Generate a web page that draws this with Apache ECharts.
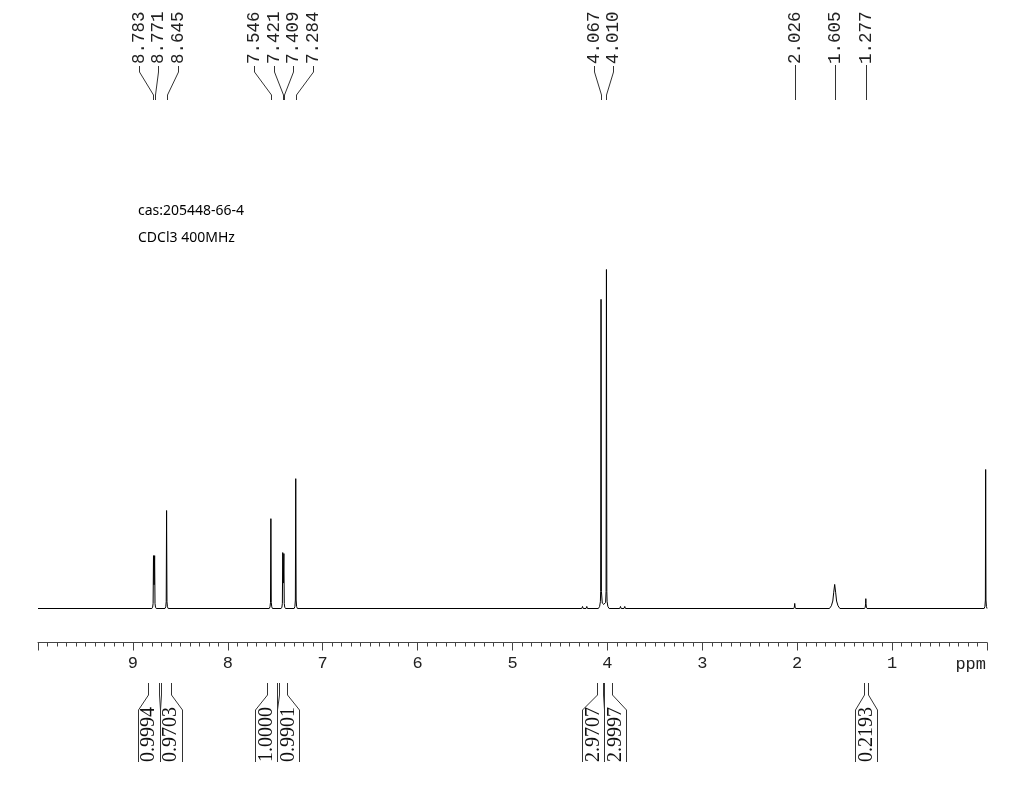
<!DOCTYPE html>
<html>
<head>
<meta charset="utf-8">
<script src="https://cdn.jsdelivr.net/npm/echarts@6/dist/echarts.min.js"></script>
<style>
html,body{margin:0;padding:0;background:#fff;}
#chart{width:1013px;height:793px;}
</style>
</head>
<body>
<div id="chart"></div>
<script>
// ---- data ----
const noteLines = ['cas:205448-66-4', 'CDCl3 400MHz'];
const axisUnit = 'ppm';
const tickLabels = [1, 2, 3, 4, 5, 6, 7, 8, 9];

// spectrum trace: [ppm, relative intensity]
const spectrumPoints = [
  [10.0, 0],
  [8.800, 0], [8.792, 0.4], [8.787, 1.5], [8.783, 15.6], [8.777, 7.0], [8.771, 15.6], [8.767, 1.5], [8.762, 0.4], [8.754, 0],
  [8.662, 0], [8.654, 0.5], [8.649, 2.0], [8.645, 28.9], [8.641, 2.0], [8.636, 0.5], [8.628, 0],
  [7.563, 0], [7.555, 0.5], [7.550, 1.8], [7.546, 26.5], [7.542, 1.8], [7.537, 0.5], [7.529, 0],
  [7.438, 0], [7.430, 0.4], [7.425, 1.5], [7.421, 16.5], [7.415, 7.5], [7.409, 16.2], [7.405, 1.5], [7.400, 0.4], [7.392, 0],
  [7.301, 0], [7.293, 0.6], [7.288, 2.5], [7.284, 38.3], [7.280, 2.5], [7.275, 0.6], [7.267, 0],
  [4.270, 0], [4.262, 0.6], [4.255, 0], [4.225, 0], [4.217, 0.6], [4.210, 0],
  [4.095, 0], [4.082, 0.6], [4.074, 2.0], [4.071, 5.0], [4.067, 91.2], [4.063, 5.0], [4.054, 1.6],
  [4.038, 1.2], [4.019, 1.8], [4.014, 5.0], [4.010, 100], [4.006, 5.0], [4.003, 2.0], [3.995, 0.6], [3.982, 0],
  [3.870, 0], [3.862, 0.6], [3.855, 0], [3.825, 0], [3.817, 0.6], [3.810, 0],
  [2.036, 0], [2.030, 0.4], [2.026, 1.5], [2.022, 0.4], [2.016, 0],
  [1.660, 0], [1.640, 0.8], [1.625, 2.2], [1.615, 4.8], [1.605, 7.1], [1.595, 4.8], [1.585, 2.2], [1.570, 0.8], [1.550, 0],
  [1.290, 0], [1.283, 0.4], [1.279, 1.4], [1.277, 2.9], [1.275, 1.4], [1.271, 0.4], [1.264, 0],
  [0.030, 0], [0.022, 0.6], [0.017, 2.5], [0.014, 41.0], [0.011, 2.5], [0.006, 0.6], [0.0, 0]
];

// peak picking labels (ppm)
const peakPpm = [8.783, 8.771, 8.645, 7.546, 7.421, 7.409, 7.284, 4.067, 4.010, 2.026, 1.605, 1.277];

// integrals: region start / end (ppm) and value
const integralFrom = [8.840, 8.707, 7.590, 7.460, 4.113, 4.032, 1.296];
const integralTo   = [8.722, 8.602, 7.485, 7.379, 4.050, 3.955, 1.257];
const integralValues = [0.9994, 0.9703, 1.0000, 0.9901, 2.9707, 2.9997, 0.2193];

// ---- layout helpers ----
function spread(xs, gap) {
  const order = xs.map((x, i) => i).sort((a, b) => xs[a] - xs[b]);
  let clusters = order.map(i => ({ idx: [i], center: xs[i] }));
  let changed = true;
  while (changed) {
    changed = false;
    for (let k = 0; k < clusters.length - 1; k++) {
      const a = clusters[k], b = clusters[k + 1];
      const aEnd = a.center + (a.idx.length - 1) * gap / 2;
      const bStart = b.center - (b.idx.length - 1) * gap / 2;
      if (bStart - aEnd < gap) {
        const idx = a.idx.concat(b.idx);
        const center = idx.reduce((s, i) => s + xs[i], 0) / idx.length;
        clusters.splice(k, 2, { idx, center });
        changed = true;
        break;
      }
    }
  }
  const pos = new Array(xs.length);
  clusters.forEach(c => {
    const n = c.idx.length;
    c.idx.forEach((i, j) => { pos[i] = c.center + (j - (n - 1) / 2) * gap; });
  });
  return pos;
}
const crisp = v => Math.round(v) + 0.5;

function renderSpectrum(params, api) {
  if (params.dataIndex !== 0) return null;
  const pts = spectrumPoints.map(p => api.coord(p));
  return {
    type: 'polyline',
    shape: { points: pts },
    style: { stroke: '#000', lineWidth: 1, fill: null }
  };
}

function renderPeakLabel(params, api) {
  const ctx = params.context;
  if (!ctx.pos) {
    ctx.xs = peakPpm.map(p => api.coord([p, 0])[0]);
    ctx.pos = spread(ctx.xs, 19.5);
  }
  const i = params.dataIndex;
  const px = crisp(ctx.xs[i]);
  const lx = crisp(ctx.pos[i]);
  const pts = Math.abs(lx - px) < 1 ? [[px, 65], [px, 100]] : [[lx, 66], [lx, 72], [px, 95], [px, 100]];
  return {
    type: 'group',
    children: [
      { type: 'polyline', shape: { points: pts }, style: { stroke: '#333', lineWidth: 1, fill: null } },
      { type: 'text', x: lx, y: 64, rotation: Math.PI / 2,
        style: { text: peakPpm[i].toFixed(3), font: '17.5px "Liberation Mono"', fill: '#222', align: 'left', verticalAlign: 'middle' } }
    ]
  };
}

function renderIntegral(params, api) {
  const ctx = params.context;
  if (!ctx.pos) {
    ctx.x1 = integralFrom.map(p => api.coord([p, 0])[0]);
    ctx.x2 = integralTo.map(p => api.coord([p, 0])[0]);
    ctx.pos = spread(ctx.x1.map((a, i) => (a + ctx.x2[i]) / 2), 22);
  }
  const i = params.dataIndex;
  const x1 = crisp(ctx.x1[i]), x2 = crisp(ctx.x2[i]);
  const c = ctx.pos[i];
  const bl = crisp(c - 11), br = crisp(c + 11);
  const st = { stroke: '#333', lineWidth: 1, fill: null };
  return {
    type: 'group',
    children: [
      { type: 'polyline', shape: { points: [[x1, 683], [x1, 695], [bl, 710], [bl, 762]] }, style: st },
      { type: 'polyline', shape: { points: [[x2, 683], [x2, 695], [br, 710], [br, 762]] }, style: st },
      { type: 'text', x: c + 0.5, y: 762, rotation: Math.PI / 2,
        style: { text: integralValues[i].toFixed(4), font: '20px "Liberation Serif"', fill: '#111', align: 'left', verticalAlign: 'middle' } }
    ]
  };
}

const chart = echarts.init(document.getElementById('chart'), null, { renderer: 'canvas' });
chart.setOption({
  animation: false,
  backgroundColor: '#fff',
  grid: { left: 38, right: 26, top: 269.5, bottom: 184.5, containLabel: false },
  xAxis: {
    type: 'value', inverse: true, min: 0, max: 10, interval: 1,
    offset: 34,
    axisLine: { show: true, onZero: false, lineStyle: { color: '#444', width: 1 } },
    axisTick: { show: true, length: 8, lineStyle: { color: '#444' } },
    minorTick: { show: true, splitNumber: 10, length: 4, lineStyle: { color: '#444' } },
    splitLine: { show: false },
    axisLabel: {
      margin: 12, color: '#222', fontFamily: 'Liberation Mono', fontSize: 17,
      formatter: v => (tickLabels.indexOf(v) >= 0 ? String(v) : '')
    }
  },
  yAxis: { type: 'value', min: 0, max: 100, show: false },
  graphic: [
    { type: 'text', left: 138, top: 204, style: { text: noteLines[0], font: '14px "Noto Sans"', fill: '#000' } },
    { type: 'text', left: 138, top: 231, style: { text: noteLines[1], font: '14px "Noto Sans"', fill: '#000' } },
    { type: 'text', right: 27, top: 656, style: { text: axisUnit, font: '17px "Liberation Mono"', fill: '#222' } }
  ],
  series: [
    {
      type: 'custom', renderItem: renderSpectrum, clip: false, silent: true,
      data: spectrumPoints
    },
    {
      type: 'custom', renderItem: renderPeakLabel, clip: false, silent: true,
      data: peakPpm.map(p => [p, 0])
    },
    {
      type: 'custom', renderItem: renderIntegral, clip: false, silent: true,
      data: integralFrom.map(p => [p, 0])
    }
  ]
});
</script>
</body>
</html>
